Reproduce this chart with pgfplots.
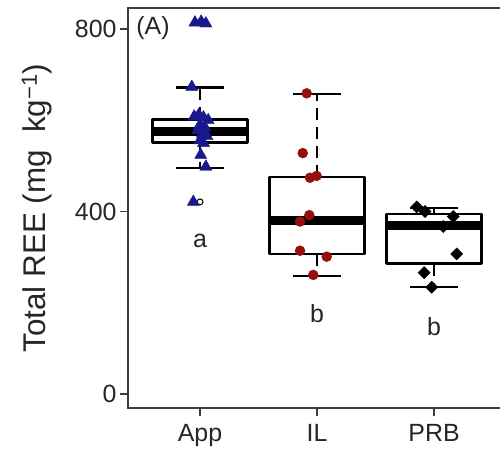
\documentclass[border=0pt]{standalone}
\usepackage{pgfplots}
\pgfplotsset{compat=1.18}
\usepackage{fontspec}
\setmainfont{Liberation Sans}
\definecolor{appblue}{RGB}{25,25,140}
\definecolor{ilred}{RGB}{150,15,15}
\definecolor{axgray}{RGB}{60,60,60}
\begin{document}
\begin{tikzpicture}
\begin{axis}[
  scale only axis, width=372bp, height=400bp,
  xmin=0.3846, xmax=3.564, ymin=-30.7, ymax=846,
  clip=false,
  axis line style={draw=none},
  tick pos=left, tick align=outside,
  major tick length=8bp,
  tick style={axgray, line width=1.2bp},
  xtick={1,2,3}, xticklabels={App,IL,PRB},
  ytick={0,400,800},
  /pgf/number format/assume math mode=true,
  ticklabel style={font=\fontsize{25}{29}\selectfont, text=black!85},
  xticklabel style={yshift=-5bp},
  ylabel style={at={(rel axis cs:-0.2446,0.5)}, rotate=0, anchor=center, font=\fontsize{31.5}{36}\selectfont, text=black!85},
  ylabel={Total REE (mg\ \ kg\textsuperscript{−1})},
  boxln/.style={black, line width=2.5bp, line join=round},
  whisk/.style={black, line width=2.5bp, dash pattern=on 12bp off 7bp},
  med/.style={black, line width=9bp},
]
\draw[axgray, line width=1.2bp] (rel axis cs:1,1) -- (rel axis cs:0,1) -- (rel axis cs:0,0) -- (rel axis cs:1,0);

% App box: whiskers 495/672, quartiles 551/602, median 576
\addplot[whisk] coordinates {(1,602) (1,672)};
\addplot[whisk] coordinates {(1,551) (1,495)};
\addplot[boxln] coordinates {(0.795,672) (1.205,672)};
\addplot[boxln] coordinates {(0.795,495) (1.205,495)};
\addplot[boxln, fill=white] coordinates {(0.595,551) (1.405,551) (1.405,602) (0.595,602)} --cycle;
\addplot[med] coordinates {(0.595,576) (1.405,576)};
\addplot[only marks, mark=o, mark size=3bp, mark options={line width=1bp}, black] coordinates {(1,814) (1,421)};

% IL box: whiskers 259/658, quartiles 307/476, median 380
\addplot[whisk] coordinates {(2,476) (2,658)};
\addplot[whisk] coordinates {(2,307) (2,259)};
\addplot[boxln] coordinates {(1.795,658) (2.205,658)};
\addplot[boxln] coordinates {(1.795,259) (2.205,259)};
\addplot[boxln, fill=white] coordinates {(1.595,307) (2.405,307) (2.405,476) (1.595,476)} --cycle;
\addplot[med] coordinates {(1.595,380) (2.405,380)};

% PRB box: whiskers 234/408, quartiles 286/394, median 369
\addplot[whisk] coordinates {(3,394) (3,408)};
\addplot[whisk] coordinates {(3,286) (3,234)};
\addplot[boxln] coordinates {(2.795,408) (3.205,408)};
\addplot[boxln] coordinates {(2.795,234) (3.205,234)};
\addplot[boxln, fill=white] coordinates {(2.595,286) (3.405,286) (3.405,394) (2.595,394)} --cycle;
\addplot[med] coordinates {(2.595,369) (3.405,369)};

\addplot[only marks, mark=triangle*, mark size=7bp, appblue] coordinates {
 (0.957,814) (1.01,816) (1.05,812) (0.93,673)
 (0.95,608) (0.99,612) (1.03,606) (1.07,600) (1.0,590) (1.04,585)
 (0.98,578) (1.02,570) (1.06,565) (1.0,556) (1.03,550)
 (1.006,524) (1.05,498) (0.943,421)};
\addplot[only marks, mark=*, mark size=5bp, ilred] coordinates {
 (1.912,659) (1.878,528) (1.94,474) (1.997,478) (1.855,378) (1.934,392)
 (1.855,314) (2.083,301) (1.968,261)};
\addplot[only marks, mark=square*, mark size=4.3bp, mark options={rotate=45}, black] coordinates {
 (2.852,410) (2.923,400) (3.165,389) (3.079,367) (3.194,307) (2.915,266) (2.98,234)};

\node[font=\fontsize{25}{29}\selectfont, text=black!85] at (axis cs:1,335) {a};
\node[font=\fontsize{25}{29}\selectfont, text=black!85] at (axis cs:2,177) {b};
\node[font=\fontsize{25}{29}\selectfont, text=black!85] at (axis cs:3,147) {b};
\node[font=\fontsize{25}{29}\selectfont, text=black!85] at (axis cs:0.598,802) {(A)};
\end{axis}
\pgfresetboundingbox
\path (-128bp,-43bp) rectangle (372bp,408bp);
\end{tikzpicture}
\end{document}
